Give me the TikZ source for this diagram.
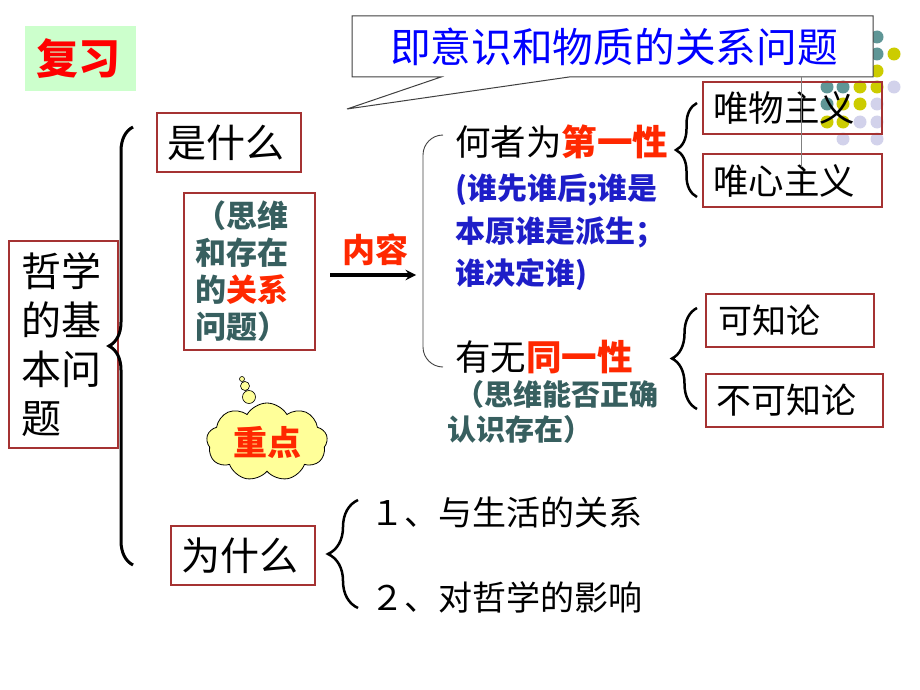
\documentclass[tikz,border=0pt]{standalone}
\usepackage{fontspec}
\newfontfamily\cjk{Noto Sans CJK SC}
\usetikzlibrary{shapes.symbols,decorations.pathreplacing}
\definecolor{bordrouge}{RGB}{165,50,50}
\definecolor{vertclair}{RGB}{204,255,204}
\definecolor{bleutitre}{RGB}{0,0,255}
\definecolor{bleutexte}{RGB}{30,30,200}
\definecolor{rougetexte}{RGB}{255,40,0}
\definecolor{sarcelle}{RGB}{55,95,95}
\definecolor{jaunenuage}{RGB}{255,255,153}
\definecolor{pointvert}{RGB}{95,150,150}
\definecolor{pointjaune}{RGB}{204,204,0}
\definecolor{pointmauve}{RGB}{210,210,235}
\begin{document}
\begin{tikzpicture}[x=1pt,y=-1pt,
    boite/.style={draw=bordrouge, line width=1.1pt, inner ysep=0pt, align=left},
    taille/.style={font=\cjk\fontsize{#1}{#1}\selectfont},
    lignes/.style 2 args={font=\cjk\bfseries\fontsize{#1}{#2}\selectfont},
    accolade/.style={decorate, decoration={brace, amplitude=#1}, line width=2.5pt}]
\useasboundingbox (0,0) rectangle (920,690);
% points décoratifs en haut à droite
\foreach \x/\y/\c in {877/37/pointvert, 877/54/pointvert, 894/54/pointjaune, 877/71/pointjaune,
    827/87/pointvert, 843/87/pointvert, 860/87/pointjaune, 877/87/pointjaune, 894/87/pointmauve,
    827/104/pointvert, 843/104/pointjaune, 860/104/pointjaune, 877/104/pointmauve,
    827/122/pointjaune, 843/122/pointjaune, 860/122/pointmauve, 877/122/pointmauve,
    843/139/pointmauve, 877/139/pointmauve}
  \fill[\c] (\x,\y) circle[radius=6.5pt];
% bulle du rappel
\filldraw[fill=white, draw=darkgray, line width=1pt] (352,16) -- (873,16) -- (873,77) -- (569,77) -- (347,109) -- (441,77) -- (352,77) -- cycle;
\node[boite, draw=none, fill=vertclair, text width=89pt, inner xsep=11pt, minimum height=65pt, taille=42] (A) at (80.5,58.5) {\bfseries\color{red}复习};
\node[taille=40.7, text=bleutitre] (B) at (614,47) {即意识和物质的关系问题};
\node[boite, text width=124pt, inner xsep=10pt, minimum height=59pt, taille=39] (C) at (229,142.5) {是什么};
\node[boite, text width=109pt, inner xsep=11pt, minimum height=157pt, lignes={31}{37}, text=sarcelle] (D) at (249.5,271.5) {（思维\\和存在\\的{\color{rougetexte}关系}\\问题）};
\node[boite, text width=85pt, inner xsep=12pt, minimum height=207pt, font=\cjk\fontsize{40}{49}\selectfont] (E) at (63.5,344.5) {哲学\\的基\\本问\\题};
\node[boite, text width=124pt, inner xsep=10pt, minimum height=59pt, taille=39] (F) at (243,555.5) {为什么};
\node[taille=33, text=rougetexte] (G) at (375,250) {\bfseries 内容};
\node[anchor=west, inner sep=0pt, taille=35.5] (H) at (455,142) {何者为{\color{rougetexte}\bfseries 第一性}};
\node[anchor=west, inner sep=0pt, lignes={30}{42.5}, align=left, text=bleutexte] (I) at (455,232.5) {(谁先谁后;谁是\\本原谁是派生；\\谁决定谁)};
\node[anchor=west, inner sep=0pt, taille=35.5] (J) at (455,357) {有无{\color{rougetexte}\bfseries 同一性}};
\node[anchor=west, inner sep=0pt, lignes={29}{35}, align=left, text=sarcelle] (K) at (455,412) {（思维能否正确\\\hspace*{-8pt}认识存在）};
\node[boite, text width=159pt, inner xsep=10pt, minimum height=52pt, taille=35.5] (L) at (792.5,108) {唯物主义};
\node[boite, text width=159pt, inner xsep=10pt, minimum height=53pt, taille=35.5] (M) at (792.5,180.5) {唯心主义};
\node[boite, text width=144pt, inner xsep=12pt, minimum height=53pt, taille=34] (N) at (790,320.5) {可知论};
\node[boite, text width=157pt, inner xsep=10pt, minimum height=53pt, taille=35] (O) at (794.5,400.5) {不可知论};
\node[cloud, cloud puffs=9, cloud puff arc=120, aspect=1.55, draw, line width=0.8pt, fill=jaunenuage, minimum width=121pt, minimum height=78pt, inner sep=0pt, taille=34, text=rougetexte] (P) at (267,442) {\bfseries 重点};
\node[anchor=west, inner sep=0pt, taille=34] (Q) at (370,512) {１、与生活的关系};
\node[anchor=west, inner sep=0pt, taille=34] (R) at (370,597) {２、对哲学的影响};
\coordinate (S1) at (330,275);
\coordinate (S2) at (416,275);
% accolades, crochet et flèche
\filldraw[fill=jaunenuage, line width=0.6pt] (249,397) circle[radius=6.5pt] (245,386) circle[radius=4.5pt] (242,379) circle[radius=2.5pt];
\draw[accolade=24pt, line width=3pt] (133,565) -- (133,127);
\draw[accolade=21pt] (697,197) -- (697,103);
\draw[accolade=25pt] (697,409) -- (697,308);
\draw[accolade=30pt] (358,608) -- (358,500);
\draw[rounded corners=20pt, line width=0.9pt, darkgray] (443,135) -- (423,135) -- (423,367) -- (443,367);
\draw[gray, line width=0.8pt] (801,77) -- (801,167);
\draw[->, line width=3.5pt, >=stealth] (S1) -- (S2);
\end{tikzpicture}
\end{document}
